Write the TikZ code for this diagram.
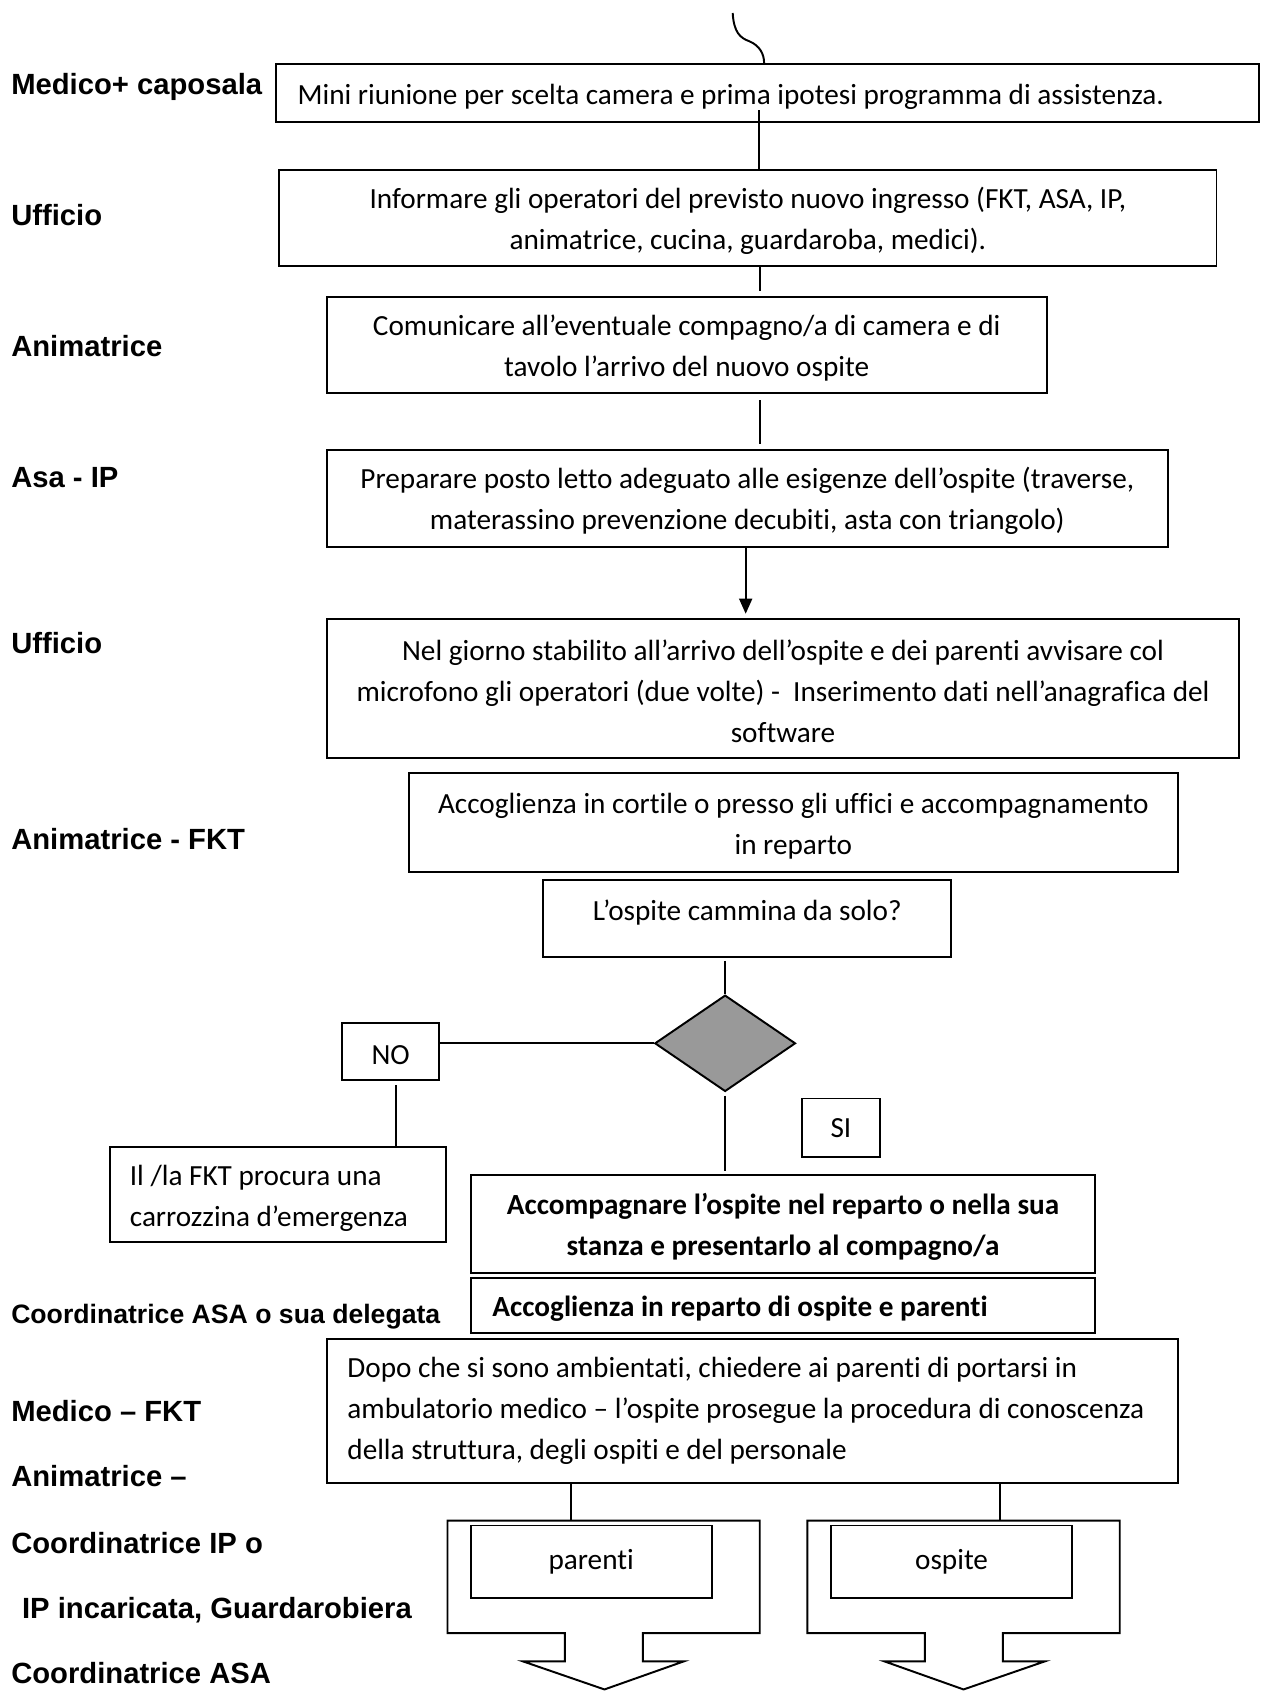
\documentclass[tikz,border=0pt]{standalone}
\usepackage{fontspec}
\setmainfont[Ligatures=TeX,RawFeature={-liga;-clig;-calt}]{Carlito}
\newfontfamily\labfont{Liberation Sans}
\usetikzlibrary{shapes.geometric,arrows.meta}
\definecolor{dgray}{RGB}{153,153,153}
\newcommand{\tpstrut}{\rule{0pt}{12.5pt}}
\begin{document}
\begin{tikzpicture}[x=0.5pt,y=-0.5pt,
  box/.style={draw,rectangle,line width=0.9pt,inner sep=0pt,align=center,font=\fontsize{13.5}{19}\selectfont},
  lbox/.style={box,align=flush left},
  bbox/.style={box,font=\bfseries\fontsize{13.5}{19}\selectfont},
  lab/.style={anchor=base west,inner sep=0pt,font=\labfont\bfseries\fontsize{13.5}{16}\selectfont},
  conn/.style={line width=0.9pt},
  callout/.style={draw,line width=0.9pt,fill=white}
]
\useasboundingbox (0,0) rectangle (1166,1568);

% lane labels
\node[lab] (l1) at (10,87) {Medico+ caposala};
\node[lab] (l2) at (10,208) {Ufficio};
\node[lab] (l3) at (10,329) {Animatrice};
\node[lab] (l4) at (10,450) {Asa - IP};
\node[lab] (l5) at (10,604) {Ufficio};
\node[lab] (l6) at (10,785) {Animatrice - FKT};
\node[lab,font=\labfont\bfseries\fontsize{12.3}{15}\selectfont] (l7) at (10,1223) {Coordinatrice ASA o sua delegata};
\node[lab] (l8) at (10,1313.6) {Medico – FKT};
\node[lab] (l9) at (10,1373.6) {Animatrice –};
\node[lab] (l10) at (10,1435) {Coordinatrice IP o};
\node[lab] (l11) at (20,1495) {IP incaricata, Guardarobiera};
\node[lab] (l12) at (10,1555.3) {Coordinatrice ASA};

% boxes
\node[lbox,minimum width=454pt,minimum height=27pt,text width=434pt] (b1) at (709,86)
  {\tpstrut Mini riunione per scelta camera e prima ipotesi programma di assistenza.};
\node[box,minimum width=433pt,minimum height=44.5pt] (b2) at (691,201.5)
  {\tpstrut Informare gli operatori del previsto nuovo ingresso (FKT, ASA, IP,\\animatrice, cucina, guardaroba, medici).};
\node[box,minimum width=332.5pt,minimum height=44.5pt] (b3) at (634.5,318.5)
  {\tpstrut Comunicare all’eventuale compagno/a di camera e di\\tavolo l’arrivo del nuovo ospite};
\node[box,minimum width=388.5pt,minimum height=44.5pt] (b4) at (690.5,460.5)
  {\tpstrut Preparare posto letto adeguato alle esigenze dell’ospite (traverse,\\materassino prevenzione decubiti, asta con triangolo)};
\node[box,minimum width=421.5pt,minimum height=64pt] (b5) at (723.5,636)
  {\tpstrut Nel giorno stabilito all’arrivo dell’ospite e dei parenti avvisare col\\microfono gli operatori (due volte) -\ \ Inserimento dati nell’anagrafica del\\software};
\node[box,minimum width=355pt,minimum height=46pt] (b6) at (733,760)
  {\tpstrut Accoglienza in cortile o presso gli uffici e accompagnamento\\in reparto};
\node[box,minimum width=188.5pt,minimum height=35.5pt,text depth=10.5pt] (b7) at (690.5,848.5)
  {\tpstrut L’ospite cammina da solo?};
\node[diamond,draw,fill=dgray,line width=0.9pt,inner sep=0pt,minimum width=65pt,minimum height=44.5pt] (d) at (670,964) {};
\node[box,minimum width=45pt,minimum height=26.5pt] (no) at (361,971.5) {\tpstrut NO};
\node[box,minimum width=36pt,minimum height=27pt] (si) at (777,1042) {SI};
\node[lbox,minimum width=155pt,minimum height=44pt,text width=137pt] (fkt) at (257,1104)
  {\tpstrut Il /la FKT procura una\\carrozzina d’emergenza};
\node[bbox,minimum width=288.5pt,minimum height=45pt] (acc) at (723.5,1131)
  {\tpstrut Accompagnare l’ospite nel reparto o nella sua\\stanza e presentarlo al compagno/a};
\node[bbox,align=flush left,minimum width=288.5pt,minimum height=25.5pt,text width=268.5pt] (acr) at (723.5,1206.5)
  {\tpstrut Accoglienza in reparto di ospite e parenti};
\node[lbox,minimum width=393pt,minimum height=66.5pt,text width=374pt] (dopo) at (695,1303.5)
  {\mbox{Dopo che si sono ambientati, chiedere ai parenti di portarsi in}\\\mbox{ambulatorio medico – l’ospite prosegue la procedura di conoscenza}\\\mbox{della struttura, degli ospiti e del personale}};

% down-arrow callouts
\node[inner sep=0pt,minimum width=144.25pt,minimum height=52pt] (cl) at (557.75,1457) {};
\node[inner sep=0pt,minimum width=144.3pt,minimum height=52pt] (cr) at (890.3,1457) {};
\draw[callout] (413.5,1405) -- (702,1405) -- (702,1509) -- (594,1509) -- (594,1535) -- (632,1535)
  -- (558.5,1561) -- (483,1535) -- (522,1535) -- (522,1509) -- (413.5,1509) -- cycle;
\draw[callout] (746,1405) -- (1034.6,1405) -- (1034.6,1509) -- (926.6,1509) -- (926.6,1535) -- (965.6,1535)
  -- (890.3,1561) -- (817,1535) -- (854.6,1535) -- (854.6,1509) -- (746,1509) -- cycle;
\node[box,minimum width=111.25pt,minimum height=33.5pt] (par) at (546.25,1443) {parenti};
\node[box,minimum width=111.25pt,minimum height=33.5pt] (osp) at (879.25,1443) {ospite};

% connectors
\coordinate (ctop) at (677,12);
\coordinate (xin) at (706,0);
\draw[conn] (ctop) .. controls (678,30) and (684,35) .. (692,38)
  .. controls (702,42) and (706,50) .. (xin |- b1.north);
\coordinate (c1) at (701,102);
\draw[conn] (c1) -- (c1 |- b2.north);
\coordinate (xa) at (702,0);
\draw[conn,shorten >=2.2pt] (xa |- b2.south) -- (xa |- b3.north);
\draw[conn,shorten <=3pt,shorten >=2.4pt] (xa |- b3.south) -- (xa |- b4.north);
\coordinate (xb) at (689,0);
\draw[conn,-{Triangle[length=7pt,width=6pt]},shorten >=2pt] (xb |- b4.south) -- (xb |- b5.north);
\draw[conn,shorten <=1.5pt] (d.north |- b7.south) -- (d.north);
\draw[conn] (d.west) -- (d.west -| no.east);
\coordinate (xn) at (365.6,0);
\draw[conn,shorten <=2pt] (xn |- no.south) -- (xn |- fkt.north);
\draw[conn,shorten <=1.5pt,shorten >=1.5pt] (d.south) -- (d.south |- acc.north);
\coordinate (xl) at (528,0);
\coordinate (xr) at (924,0);
\draw[conn] (xl |- dopo.south) -- (xl |- cl.north);
\draw[conn] (xr |- dopo.south) -- (xr |- cr.north);
\end{tikzpicture}
\end{document}
